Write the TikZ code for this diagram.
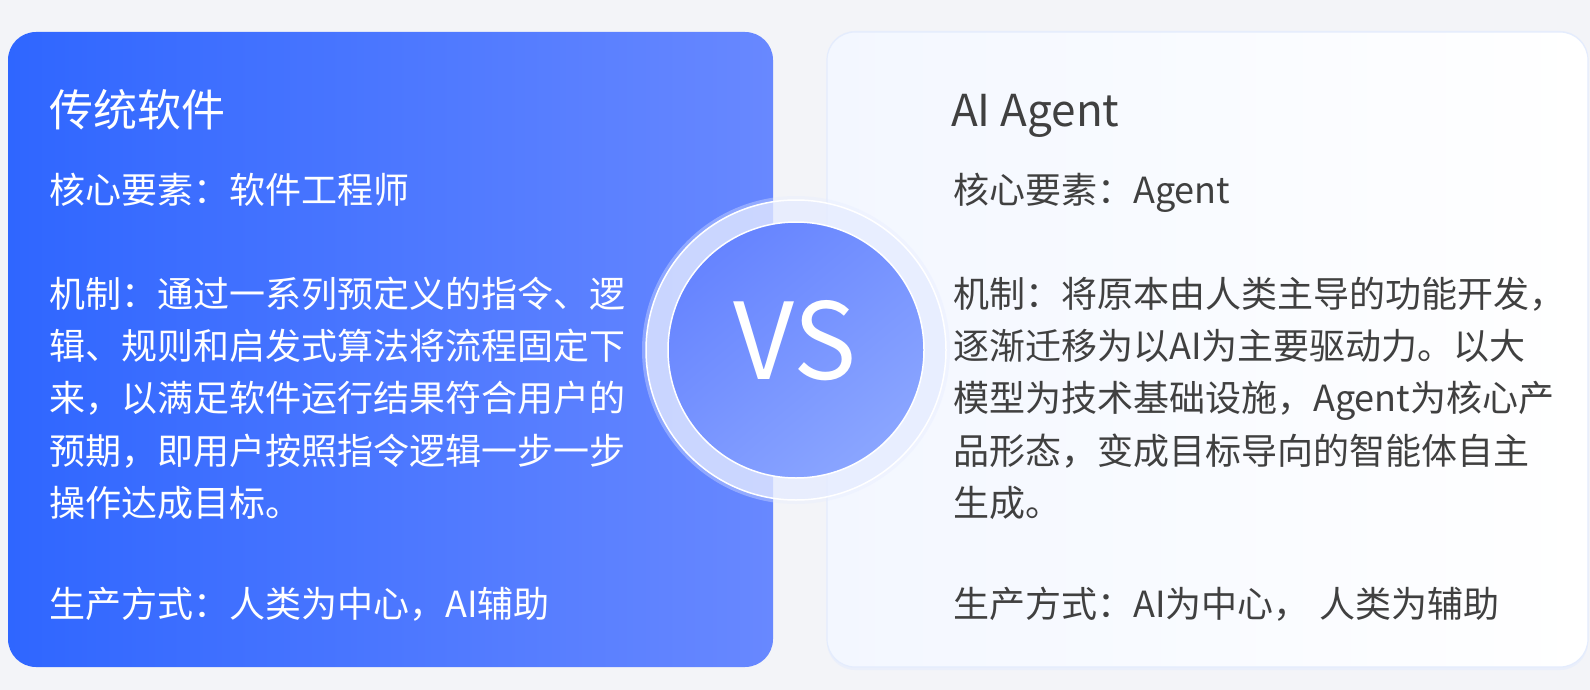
\documentclass[tikz,border=0pt]{standalone}
\usepackage{fontspec}
\setmainfont{Noto Sans CJK SC}
\definecolor{bgc}{HTML}{F3F4F8}
\definecolor{lcA}{HTML}{2F66FF}
\definecolor{lcB}{HTML}{6888FF}
\definecolor{rcA}{HTML}{F3F7FF}
\definecolor{rcB}{HTML}{FFFFFF}
\definecolor{rborder}{HTML}{E4ECFD}
\definecolor{ringc}{HTML}{E6ECFF}
\definecolor{vsA}{HTML}{6684FF}
\definecolor{vsB}{HTML}{8AA5FF}
\definecolor{darktext}{HTML}{404040}
\begin{document}
\begin{tikzpicture}[x=1pt,y=-1pt,
  card/.style={rectangle, rounded corners=28pt, inner sep=0pt, minimum width=#1},
  body/.style={anchor=base west, inner sep=0pt, font=\fontsize{36}{52}\selectfont},
  titletext/.style={anchor=base west, inner sep=0pt, font=\fontsize{44}{52}\selectfont},
  lefttext/.style={text=white},
  righttext/.style={text=darktext}]
\useasboundingbox (0,0) rectangle (1590,690);
\fill[bgc] (0,0) rectangle (1590,690);

% cards
\node[card=765pt, minimum height=635pt, left color=lcA, right color=lcB] (leftcard) at (390.5,349.5) {};
\node[card=761pt, minimum height=639pt, fill=rborder, opacity=0.6] (rightshadow) at (1207.5,350.5) {};
\node[card=761pt, minimum height=635pt, left color=rcA, right color=rcB, draw=rborder, line width=1.2pt] (rightcard) at (1207.5,349.5) {};

% left texts
\node[titletext, lefttext] (ltitle) at (49,127) {传统软件};
\node[body, lefttext] (lcore) at (49,203.5) {核心要素：软件工程师};
\node[body, lefttext] (lm1) at (49,307.5) {机制：通过一系列预定义的指令、逻};
\node[body, lefttext] (lm2) at (49,359.7) {辑、规则和启发式算法将流程固定下};
\node[body, lefttext] (lm3) at (49,411.9) {来，以满足软件运行结果符合用户的};
\node[body, lefttext] (lm4) at (49,464.1) {预期，即用户按照指令逻辑一步一步};
\node[body, lefttext] (lm5) at (49,516.3) {操作达成目标。};
\node[body, lefttext] (lprod) at (49,617.5) {生产方式：人类为中心，AI辅助};

% right texts
\node[anchor=base west, inner sep=0pt, font=\fontsize{44}{52}\selectfont, righttext] (rtitle) at (951,127) {AI Agent};
\node[body, righttext] (rcore) at (953,203.5) {核心要素：Agent};
\node[body, righttext] (rm1) at (953,307.5) {机制：将原本由人类主导的功能开发，};
\node[body, righttext] (rm2) at (953,359.7) {逐渐迁移为以AI为主要驱动力。以大};
\node[body, righttext] (rm3) at (953,411.9) {模型为技术基础设施，Agent为核心产};
\node[body, righttext] (rm4) at (953,464.1) {品形态，变成目标导向的智能体自主};
\node[body, righttext] (rm5) at (953,516.3) {生成。};
\node[body, righttext] (rprod) at (953,617.5) {生产方式：AI为中心，\hspace{10pt}人类为辅助};

% VS badge
\node[circle, minimum size=308pt, inner sep=0pt, fill=ringc, opacity=0.35] (vsglow) at (796,350) {};
\node[circle, minimum size=300pt, inner sep=0pt, fill=ringc, fill opacity=0.68, draw=white, line width=1.5pt] (vsring) at (796,350) {};
\node[circle, minimum size=256pt, inner sep=0pt, top color=vsA, bottom color=vsB, shading angle=40, draw=white, line width=1.5pt] (vsinner) at (796,350) {};
\node[inner sep=0pt, text=white, font=\fontsize{106}{106}\selectfont] (vstext) at (795,341) {VS};
\end{tikzpicture}
\end{document}
